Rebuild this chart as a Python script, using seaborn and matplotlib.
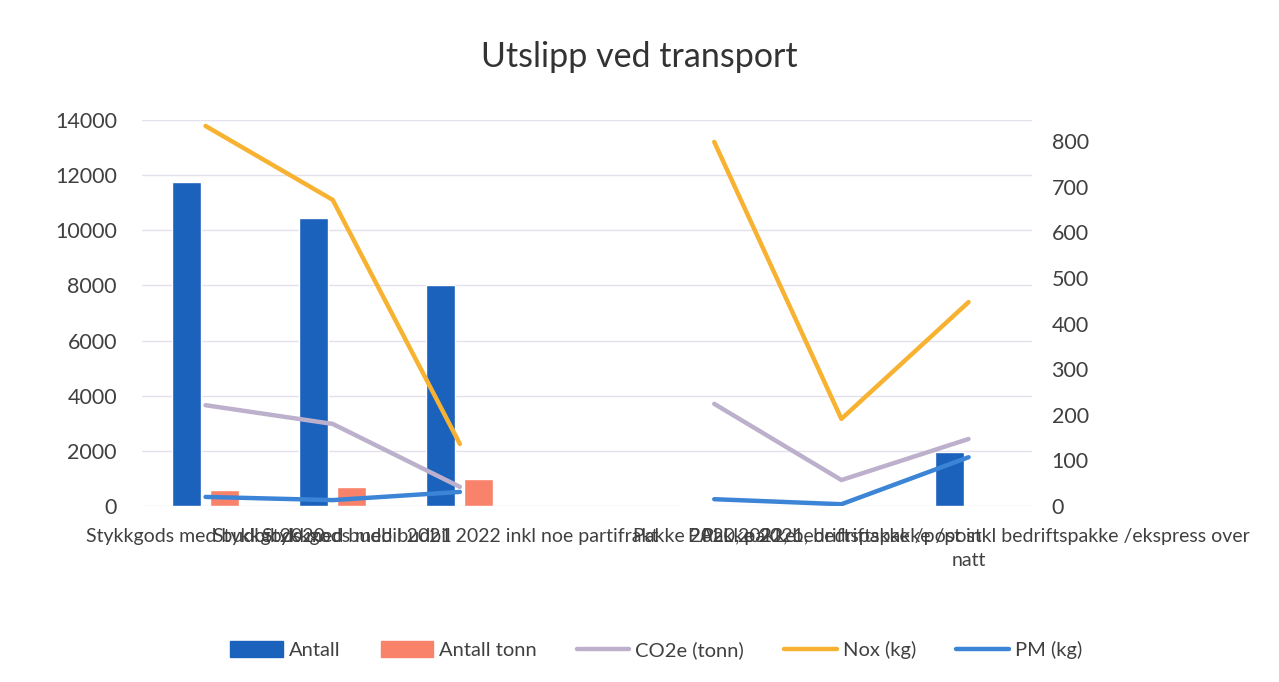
import pandas as pd
import numpy as np
import seaborn as sns
import matplotlib.pyplot as plt
from matplotlib.patches import Patch
from matplotlib.lines import Line2D

# categories (4th slot is empty in the original sheet)
categories = [
    "Stykkgods med budbil 2020",
    "Stykkgods med budbil 2021",
    "Stykkgods med budbil 2022 inkl noe partifrakt",
    " ",
    "Pakke 2020, pakke",
    "Pakke 2021, bedriftspakke /post",
    "PALL 2022, bedriftspakke /post inkl bedriftspakke /ekspress over\nnatt",
]
groups = ["stykk", "stykk", "stykk", "tom", "pakke", "pakke", "pakke"]

# bar series (left axis)
antall = [11750, 10450, 8000, np.nan, 50, np.nan, 1950]
antall_tonn = [600, 690, 980, np.nan, np.nan, np.nan, np.nan]

# line series (right axis)
co2e = [221, 180, 42, np.nan, 224, 57, 147]
nox = [833, 671, 136, np.nan, 798, 191, 447]
pm = [20, 13, 31, np.nan, 15, 4, 107]

bar_colors = {"Antall": "#1b62bd", "Antall tonn": "#f8826a"}
line_colors = {"CO2e (tonn)": "#bcb0cc", "Nox (kg)": "#f8b232", "PM (kg)": "#3c85d6"}

# long form tables
df_bar = pd.DataFrame({"kategori": categories, "Antall": antall, "Antall tonn": antall_tonn})
df_bar = df_bar.melt(id_vars="kategori", var_name="serie", value_name="verdi").dropna()

df_line = pd.DataFrame({"pos": np.arange(len(categories)), "gruppe": groups,
                        "CO2e (tonn)": co2e, "Nox (kg)": nox, "PM (kg)": pm})
df_line = df_line.melt(id_vars=["pos", "gruppe"], var_name="serie", value_name="verdi").dropna()

sns.set_style("white")
plt.rcParams["font.family"] = ["Lato", "DejaVu Sans"]

fig = plt.figure(figsize=(12.79, 6.82), dpi=100)
ax = fig.add_axes([0.111, 0.258, 0.696, 0.566])

sns.barplot(data=df_bar, x="kategori", y="verdi", hue="serie", order=categories,
            hue_order=list(bar_colors), palette=bar_colors, width=0.6, gap=0.24,
            saturation=1, legend=False, ax=ax)
ax.set_ylim(0, 14000)
ax.set_yticks(range(0, 14001, 2000))
ax.set_xlim(-0.5, len(categories) - 0.5)
ax.grid(axis="y", color="#e4e0ee", lw=1)
ax.set_axisbelow(True)
ax.set_xlabel("")
ax.set_ylabel("")
ax.tick_params(axis="y", labelsize=15.5, colors="#404040", pad=18, length=0)
ax.tick_params(axis="x", labelsize=14, colors="#404040", pad=16, length=0)
for lab in ax.get_xticklabels():
    lab.set_linespacing(1.45)

ax2 = ax.twinx()
sns.lineplot(data=df_line, x="pos", y="verdi", hue="serie", units="gruppe",
             estimator=None, sort=False, hue_order=list(line_colors),
             palette=line_colors, lw=3.2, legend=False, ax=ax2)
ax2.set_ylim(0, 846)
ax2.set_yticks(range(0, 801, 100))
ax2.set_xlim(-0.5, len(categories) - 0.5)
ax2.set_ylabel("")
ax2.tick_params(axis="y", labelsize=15.5, colors="#404040", pad=14, length=0)

for a in (ax, ax2):
    for s in a.spines.values():
        s.set_visible(False)

fig.text(0.5, 1 - 57 / 682, "Utslipp ved transport", ha="center", va="center",
         fontsize=24.5, color="#333333")

handles = [Patch(color=c, label=k) for k, c in bar_colors.items()]
handles += [Line2D([], [], color=c, lw=3.2, label=k) for k, c in line_colors.items()]
fig.legend(handles=handles, loc="center", bbox_to_anchor=(0.513, 1 - 650 / 682),
           ncol=5, frameon=False, fontsize=14.5, handlelength=2.6, handleheight=0.8,
           columnspacing=2.0, handletextpad=0.3, labelcolor="#404040")

fig.savefig("out.png", dpi=100, facecolor="white")
